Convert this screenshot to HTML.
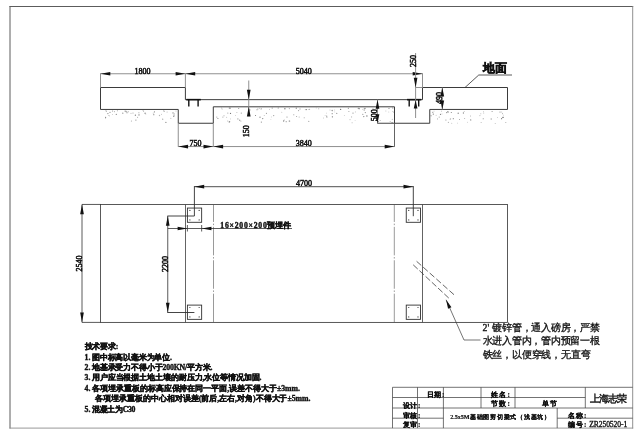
<!DOCTYPE html>
<html><head><meta charset="utf-8"><title>2.5x5M基础图剪切梁式（浅基坑）</title>
<style>
html,body{margin:0;padding:0;background:#fff;}
body{width:640px;height:435px;overflow:hidden;font-family:"Liberation Serif",serif;}
svg{display:block;filter:grayscale(1);}
text{font-family:"Liberation Serif",serif;fill:#111;}
text.n{font-weight:normal;stroke:#111;stroke-width:0.5;}
text.b{font-weight:bold;stroke:#111;stroke-width:0.38;}
text.s{font-weight:normal;stroke:#111;stroke-width:0.32;}
text.l{font-weight:bold;stroke:#111;stroke-width:0.22;}
text.c{font-weight:normal;stroke:#111;stroke-width:0.42;}
text.t{font-weight:bold;stroke:#111;stroke-width:0.15;}
text.h{font-family:"Liberation Sans",sans-serif;font-weight:bold;stroke:#111;stroke-width:0.55;}
</style></head><body>
<svg width="640" height="435" viewBox="0 0 640 435">
<rect x="0" y="0" width="640" height="435" fill="#ffffff"/>
<line x1="9.5" y1="6.5" x2="633.2" y2="6.5" stroke="#5c5c5c" stroke-width="1" />
<line x1="10" y1="6" x2="10" y2="428.5" stroke="#5c5c5c" stroke-width="1" />
<line x1="632.7" y1="6" x2="632.7" y2="428.5" stroke="#858585" stroke-width="0.9" />
<line x1="9.5" y1="428.1" x2="633.2" y2="428.1" stroke="#8c8c8c" stroke-width="0.9" />
<circle cx="125.8" cy="111.2" r="0.60" fill="#8a8a8a"/>
<circle cx="163.8" cy="110.9" r="0.57" fill="#999"/>
<circle cx="117.4" cy="110.8" r="0.53" fill="#a0a0a0"/>
<circle cx="107.9" cy="113.6" r="0.65" fill="#8a8a8a"/>
<circle cx="173.5" cy="116.3" r="0.57" fill="#8a8a8a"/>
<circle cx="145.1" cy="113.3" r="0.69" fill="#8a8a8a"/>
<circle cx="143.6" cy="111.1" r="0.53" fill="#999"/>
<circle cx="110.0" cy="112.4" r="0.64" fill="#a0a0a0"/>
<circle cx="108.9" cy="115.5" r="0.46" fill="#8a8a8a"/>
<circle cx="142.9" cy="110.7" r="0.42" fill="#a0a0a0"/>
<circle cx="139.0" cy="114.9" r="0.63" fill="#777"/>
<circle cx="145.8" cy="114.0" r="0.49" fill="#a0a0a0"/>
<circle cx="154.5" cy="111.8" r="0.57" fill="#999"/>
<circle cx="138.9" cy="112.8" r="0.53" fill="#999"/>
<circle cx="176.0" cy="111.0" r="0.53" fill="#b4b4b4"/>
<circle cx="112.6" cy="114.4" r="0.41" fill="#8a8a8a"/>
<circle cx="159.5" cy="115.5" r="0.66" fill="#b4b4b4"/>
<circle cx="127.0" cy="112.8" r="0.55" fill="#777"/>
<circle cx="106.3" cy="110.9" r="0.48" fill="#8a8a8a"/>
<circle cx="105.6" cy="117.3" r="0.59" fill="#777"/>
<circle cx="122.8" cy="113.2" r="0.60" fill="#8a8a8a"/>
<circle cx="173.0" cy="112.9" r="0.58" fill="#777"/>
<circle cx="105.5" cy="118.4" r="0.44" fill="#a0a0a0"/>
<circle cx="131.4" cy="121.0" r="0.55" fill="#a0a0a0"/>
<circle cx="135.4" cy="115.2" r="0.67" fill="#777"/>
<circle cx="167.1" cy="112.1" r="0.52" fill="#b4b4b4"/>
<circle cx="153.2" cy="113.1" r="0.47" fill="#8a8a8a"/>
<circle cx="114.5" cy="111.7" r="0.47" fill="#777"/>
<circle cx="164.6" cy="111.4" r="0.48" fill="#a0a0a0"/>
<circle cx="133.0" cy="113.0" r="0.57" fill="#a0a0a0"/>
<circle cx="153.8" cy="114.7" r="0.59" fill="#8a8a8a"/>
<circle cx="135.9" cy="120.1" r="0.69" fill="#999"/>
<circle cx="131.0" cy="113.3" r="0.43" fill="#777"/>
<circle cx="105.8" cy="110.8" r="0.46" fill="#a0a0a0"/>
<circle cx="109.4" cy="115.9" r="0.43" fill="#999"/>
<circle cx="112.6" cy="110.9" r="0.51" fill="#8a8a8a"/>
<circle cx="106.4" cy="111.6" r="0.51" fill="#b4b4b4"/>
<circle cx="174.1" cy="115.9" r="0.54" fill="#8a8a8a"/>
<circle cx="165.9" cy="122.4" r="0.54" fill="#777"/>
<circle cx="124.9" cy="111.1" r="0.62" fill="#b4b4b4"/>
<circle cx="137.6" cy="117.2" r="0.55" fill="#a0a0a0"/>
<circle cx="173.8" cy="114.9" r="0.44" fill="#999"/>
<circle cx="170.9" cy="118.2" r="0.49" fill="#8a8a8a"/>
<circle cx="154.3" cy="112.0" r="0.51" fill="#a0a0a0"/>
<circle cx="128.2" cy="111.7" r="0.56" fill="#999"/>
<circle cx="126.2" cy="111.7" r="0.64" fill="#a0a0a0"/>
<circle cx="162.7" cy="119.2" r="0.62" fill="#a0a0a0"/>
<circle cx="116.3" cy="114.4" r="0.62" fill="#8a8a8a"/>
<circle cx="161.4" cy="114.2" r="0.46" fill="#999"/>
<circle cx="174.2" cy="113.9" r="0.68" fill="#b4b4b4"/>
<circle cx="385.9" cy="111.0" r="0.47" fill="#a0a0a0"/>
<circle cx="298.6" cy="110.6" r="0.54" fill="#999"/>
<circle cx="365.3" cy="112.6" r="0.60" fill="#8a8a8a"/>
<circle cx="364.2" cy="108.5" r="0.52" fill="#a0a0a0"/>
<circle cx="300.0" cy="109.0" r="0.64" fill="#b4b4b4"/>
<circle cx="229.6" cy="121.7" r="0.62" fill="#777"/>
<circle cx="286.2" cy="121.7" r="0.62" fill="#a0a0a0"/>
<circle cx="392.8" cy="108.0" r="0.58" fill="#777"/>
<circle cx="359.2" cy="108.7" r="0.65" fill="#777"/>
<circle cx="332.3" cy="110.8" r="0.56" fill="#a0a0a0"/>
<circle cx="217.9" cy="118.5" r="0.62" fill="#8a8a8a"/>
<circle cx="308.8" cy="121.4" r="0.53" fill="#a0a0a0"/>
<circle cx="362.7" cy="109.2" r="0.48" fill="#b4b4b4"/>
<circle cx="304.2" cy="117.7" r="0.50" fill="#999"/>
<circle cx="289.4" cy="108.6" r="0.67" fill="#b4b4b4"/>
<circle cx="375.6" cy="115.8" r="0.64" fill="#999"/>
<circle cx="289.7" cy="121.1" r="0.55" fill="#999"/>
<circle cx="241.3" cy="113.1" r="0.66" fill="#a0a0a0"/>
<circle cx="323.5" cy="118.0" r="0.44" fill="#a0a0a0"/>
<circle cx="299.2" cy="117.0" r="0.57" fill="#b4b4b4"/>
<circle cx="336.8" cy="113.4" r="0.54" fill="#8a8a8a"/>
<circle cx="373.0" cy="108.2" r="0.46" fill="#8a8a8a"/>
<circle cx="353.0" cy="113.1" r="0.57" fill="#8a8a8a"/>
<circle cx="293.8" cy="114.8" r="0.55" fill="#999"/>
<circle cx="249.9" cy="109.9" r="0.55" fill="#777"/>
<circle cx="305.4" cy="109.6" r="0.56" fill="#b4b4b4"/>
<circle cx="380.1" cy="120.5" r="0.46" fill="#777"/>
<circle cx="238.7" cy="108.5" r="0.53" fill="#8a8a8a"/>
<circle cx="334.8" cy="111.9" r="0.46" fill="#b4b4b4"/>
<circle cx="355.1" cy="120.6" r="0.45" fill="#b4b4b4"/>
<circle cx="239.7" cy="120.3" r="0.69" fill="#a0a0a0"/>
<circle cx="348.4" cy="108.3" r="0.67" fill="#a0a0a0"/>
<circle cx="392.2" cy="119.2" r="0.45" fill="#777"/>
<circle cx="392.9" cy="111.5" r="0.53" fill="#b4b4b4"/>
<circle cx="271.3" cy="116.9" r="0.41" fill="#999"/>
<circle cx="296.6" cy="116.5" r="0.52" fill="#999"/>
<circle cx="326.3" cy="113.1" r="0.42" fill="#a0a0a0"/>
<circle cx="388.9" cy="108.4" r="0.48" fill="#8a8a8a"/>
<circle cx="377.1" cy="109.0" r="0.63" fill="#777"/>
<circle cx="366.9" cy="116.0" r="0.68" fill="#777"/>
<circle cx="240.9" cy="121.1" r="0.57" fill="#b4b4b4"/>
<circle cx="230.1" cy="108.2" r="0.61" fill="#777"/>
<circle cx="375.2" cy="109.8" r="0.41" fill="#8a8a8a"/>
<circle cx="358.3" cy="108.3" r="0.66" fill="#8a8a8a"/>
<circle cx="261.6" cy="108.5" r="0.40" fill="#999"/>
<circle cx="289.2" cy="121.0" r="0.59" fill="#8a8a8a"/>
<circle cx="308.8" cy="109.5" r="0.43" fill="#a0a0a0"/>
<circle cx="261.1" cy="109.0" r="0.68" fill="#b4b4b4"/>
<circle cx="309.6" cy="109.2" r="0.53" fill="#a0a0a0"/>
<circle cx="262.7" cy="118.6" r="0.70" fill="#8a8a8a"/>
<circle cx="216.8" cy="117.1" r="0.57" fill="#a0a0a0"/>
<circle cx="306.6" cy="109.6" r="0.53" fill="#777"/>
<circle cx="332.2" cy="113.7" r="0.67" fill="#999"/>
<circle cx="269.4" cy="109.3" r="0.47" fill="#a0a0a0"/>
<circle cx="363.8" cy="116.6" r="0.59" fill="#777"/>
<circle cx="392.1" cy="122.6" r="0.65" fill="#8a8a8a"/>
<circle cx="226.7" cy="117.3" r="0.48" fill="#a0a0a0"/>
<circle cx="224.0" cy="115.8" r="0.51" fill="#999"/>
<circle cx="334.7" cy="110.0" r="0.47" fill="#b4b4b4"/>
<circle cx="222.1" cy="109.0" r="0.48" fill="#8a8a8a"/>
<circle cx="261.4" cy="122.1" r="0.69" fill="#999"/>
<circle cx="272.2" cy="108.1" r="0.66" fill="#a0a0a0"/>
<circle cx="278.2" cy="108.0" r="0.51" fill="#777"/>
<circle cx="264.2" cy="115.6" r="0.47" fill="#8a8a8a"/>
<circle cx="230.4" cy="118.9" r="0.44" fill="#999"/>
<circle cx="221.5" cy="108.0" r="0.49" fill="#a0a0a0"/>
<circle cx="229.2" cy="122.0" r="0.66" fill="#a0a0a0"/>
<circle cx="332.4" cy="116.8" r="0.66" fill="#777"/>
<circle cx="351.6" cy="116.9" r="0.55" fill="#b4b4b4"/>
<circle cx="344.3" cy="115.4" r="0.41" fill="#999"/>
<circle cx="326.9" cy="117.1" r="0.64" fill="#a0a0a0"/>
<circle cx="377.8" cy="117.5" r="0.57" fill="#8a8a8a"/>
<circle cx="362.8" cy="114.3" r="0.67" fill="#a0a0a0"/>
<circle cx="229.3" cy="108.1" r="0.59" fill="#8a8a8a"/>
<circle cx="281.8" cy="112.2" r="0.42" fill="#8a8a8a"/>
<circle cx="326.7" cy="116.1" r="0.55" fill="#8a8a8a"/>
<circle cx="296.3" cy="108.2" r="0.68" fill="#999"/>
<circle cx="230.5" cy="113.4" r="0.62" fill="#777"/>
<circle cx="259.4" cy="108.2" r="0.48" fill="#a0a0a0"/>
<circle cx="255.5" cy="115.5" r="0.54" fill="#777"/>
<circle cx="227.8" cy="120.9" r="0.49" fill="#8a8a8a"/>
<circle cx="325.1" cy="115.4" r="0.42" fill="#a0a0a0"/>
<circle cx="273.7" cy="115.6" r="0.61" fill="#999"/>
<circle cx="316.2" cy="108.0" r="0.42" fill="#b4b4b4"/>
<circle cx="389.1" cy="108.4" r="0.47" fill="#777"/>
<circle cx="266.4" cy="113.2" r="0.54" fill="#777"/>
<circle cx="352.1" cy="122.8" r="0.56" fill="#b4b4b4"/>
<circle cx="390.1" cy="121.5" r="0.41" fill="#777"/>
<circle cx="227.8" cy="113.1" r="0.70" fill="#b4b4b4"/>
<circle cx="283.6" cy="121.0" r="0.68" fill="#8a8a8a"/>
<circle cx="318.7" cy="108.7" r="0.56" fill="#b4b4b4"/>
<circle cx="237.9" cy="118.9" r="0.55" fill="#8a8a8a"/>
<circle cx="340.6" cy="109.4" r="0.67" fill="#777"/>
<circle cx="284.9" cy="108.8" r="0.68" fill="#777"/>
<circle cx="287.0" cy="117.0" r="0.52" fill="#777"/>
<circle cx="270.9" cy="119.4" r="0.40" fill="#b4b4b4"/>
<circle cx="365.0" cy="108.5" r="0.68" fill="#8a8a8a"/>
<circle cx="376.3" cy="110.1" r="0.51" fill="#777"/>
<circle cx="284.2" cy="120.0" r="0.42" fill="#777"/>
<circle cx="350.0" cy="119.7" r="0.48" fill="#8a8a8a"/>
<circle cx="364.2" cy="110.0" r="0.68" fill="#a0a0a0"/>
<circle cx="388.8" cy="112.0" r="0.49" fill="#b4b4b4"/>
<circle cx="355.3" cy="111.9" r="0.41" fill="#777"/>
<circle cx="378.4" cy="121.6" r="0.56" fill="#8a8a8a"/>
<circle cx="222.9" cy="117.1" r="0.54" fill="#a0a0a0"/>
<circle cx="330.0" cy="110.0" r="0.41" fill="#999"/>
<circle cx="236.9" cy="112.5" r="0.50" fill="#b4b4b4"/>
<circle cx="260.0" cy="117.2" r="0.60" fill="#777"/>
<circle cx="332.1" cy="110.2" r="0.57" fill="#777"/>
<circle cx="235.6" cy="115.4" r="0.42" fill="#999"/>
<circle cx="377.1" cy="112.9" r="0.47" fill="#b4b4b4"/>
<circle cx="393.4" cy="112.2" r="0.44" fill="#a0a0a0"/>
<circle cx="257.9" cy="108.9" r="0.57" fill="#b4b4b4"/>
<circle cx="257.0" cy="109.7" r="0.57" fill="#8a8a8a"/>
<circle cx="348.9" cy="111.6" r="0.52" fill="#999"/>
<circle cx="446.8" cy="112.6" r="0.63" fill="#777"/>
<circle cx="451.8" cy="123.3" r="0.44" fill="#999"/>
<circle cx="470.7" cy="119.9" r="0.65" fill="#8a8a8a"/>
<circle cx="451.3" cy="112.4" r="0.52" fill="#777"/>
<circle cx="463.4" cy="113.0" r="0.64" fill="#8a8a8a"/>
<circle cx="440.5" cy="114.3" r="0.63" fill="#777"/>
<circle cx="503.6" cy="115.1" r="0.42" fill="#999"/>
<circle cx="495.2" cy="123.4" r="0.47" fill="#8a8a8a"/>
<circle cx="447.8" cy="111.6" r="0.69" fill="#8a8a8a"/>
<circle cx="501.6" cy="118.7" r="0.59" fill="#777"/>
<circle cx="437.4" cy="119.7" r="0.40" fill="#a0a0a0"/>
<circle cx="448.4" cy="122.4" r="0.59" fill="#b4b4b4"/>
<circle cx="503.2" cy="117.2" r="0.56" fill="#777"/>
<circle cx="483.4" cy="111.4" r="0.42" fill="#999"/>
<circle cx="501.8" cy="111.9" r="0.48" fill="#999"/>
<circle cx="431.1" cy="115.8" r="0.70" fill="#b4b4b4"/>
<circle cx="502.9" cy="117.4" r="0.67" fill="#777"/>
<circle cx="470.5" cy="116.0" r="0.41" fill="#777"/>
<circle cx="483.8" cy="113.0" r="0.41" fill="#777"/>
<circle cx="497.4" cy="117.5" r="0.42" fill="#a0a0a0"/>
<circle cx="481.1" cy="122.5" r="0.47" fill="#8a8a8a"/>
<circle cx="483.2" cy="118.7" r="0.51" fill="#777"/>
<circle cx="445.9" cy="120.0" r="0.62" fill="#999"/>
<circle cx="436.1" cy="115.2" r="0.46" fill="#a0a0a0"/>
<circle cx="448.3" cy="112.2" r="0.63" fill="#b4b4b4"/>
<circle cx="439.2" cy="117.1" r="0.58" fill="#a0a0a0"/>
<circle cx="467.4" cy="122.2" r="0.42" fill="#999"/>
<circle cx="442.0" cy="113.9" r="0.46" fill="#999"/>
<circle cx="441.6" cy="111.1" r="0.42" fill="#777"/>
<circle cx="464.7" cy="118.5" r="0.49" fill="#8a8a8a"/>
<circle cx="505.8" cy="122.6" r="0.50" fill="#a0a0a0"/>
<circle cx="479.9" cy="115.6" r="0.54" fill="#b4b4b4"/>
<circle cx="480.8" cy="113.7" r="0.51" fill="#b4b4b4"/>
<circle cx="464.2" cy="111.4" r="0.42" fill="#8a8a8a"/>
<circle cx="457.4" cy="123.1" r="0.44" fill="#a0a0a0"/>
<circle cx="459.5" cy="119.5" r="0.49" fill="#777"/>
<circle cx="437.6" cy="118.4" r="0.46" fill="#999"/>
<circle cx="500.0" cy="111.9" r="0.51" fill="#777"/>
<circle cx="433.3" cy="114.1" r="0.64" fill="#777"/>
<circle cx="434.0" cy="111.1" r="0.42" fill="#8a8a8a"/>
<circle cx="450.3" cy="119.2" r="0.67" fill="#b4b4b4"/>
<circle cx="458.2" cy="113.3" r="0.69" fill="#8a8a8a"/>
<circle cx="450.7" cy="118.6" r="0.49" fill="#b4b4b4"/>
<circle cx="453.3" cy="118.7" r="0.58" fill="#8a8a8a"/>
<circle cx="432.8" cy="112.3" r="0.54" fill="#777"/>
<circle cx="502.5" cy="113.8" r="0.48" fill="#777"/>
<circle cx="492.1" cy="111.5" r="0.55" fill="#8a8a8a"/>
<circle cx="491.2" cy="119.0" r="0.65" fill="#a0a0a0"/>
<polyline points="100.5,109.45 100.5,87.5 185.4,87.5 185.4,99.65 422.5,99.65 422.5,87.5 507.5,87.5 507.5,109.45 429.75,109.45 429.75,123.25 394.5,123.25 394.5,106.8 213.3,106.8 213.3,123.25 178.25,123.25 178.25,109.45 100.5,109.45" fill="none" stroke="#303030" stroke-width="0.95"/>
<line x1="186.3" y1="99.65" x2="200.8" y2="99.65" stroke="#111" stroke-width="1.6" />
<line x1="188.8" y1="99.65" x2="188.8" y2="106.6" stroke="#111" stroke-width="1.4" />
<line x1="198.1" y1="99.65" x2="198.1" y2="106.6" stroke="#111" stroke-width="1.4" />
<line x1="407" y1="99.65" x2="421.3" y2="99.65" stroke="#111" stroke-width="1.6" />
<line x1="409.2" y1="99.65" x2="409.2" y2="106.6" stroke="#111" stroke-width="1.4" />
<line x1="418.7" y1="99.65" x2="418.7" y2="106.6" stroke="#111" stroke-width="1.4" />
<line x1="100.5" y1="73.3" x2="100.5" y2="87.5" stroke="#8a8a8a" stroke-width="0.95" />
<line x1="185.4" y1="73.3" x2="185.4" y2="87.5" stroke="#8a8a8a" stroke-width="0.95" />
<line x1="422.5" y1="73.3" x2="422.5" y2="87.5" stroke="#8a8a8a" stroke-width="0.95" />
<line x1="100.5" y1="73.75" x2="422.5" y2="73.75" stroke="#8a8a8a" stroke-width="0.95" />
<polygon points="100.50,73.75 110.30,71.90 110.30,75.60" fill="#111"/>
<polygon points="185.40,73.75 175.60,75.60 175.60,71.90" fill="#111"/>
<polygon points="185.40,73.75 195.20,71.90 195.20,75.60" fill="#111"/>
<polygon points="422.50,73.75 412.70,75.60 412.70,71.90" fill="#111"/>
<text x="142.5" y="73.8" font-size="8" text-anchor="middle" class="n" >1800</text>
<text x="303.75" y="73.8" font-size="8" text-anchor="middle" class="n" >5040</text>
<line x1="178.25" y1="123.25" x2="178.25" y2="146.9" stroke="#8a8a8a" stroke-width="0.95" />
<line x1="213.3" y1="123.25" x2="213.3" y2="146.9" stroke="#8a8a8a" stroke-width="0.95" />
<line x1="394.5" y1="123.25" x2="394.5" y2="146.9" stroke="#484848" stroke-width="0.85" />
<line x1="178.25" y1="146.55" x2="394.5" y2="146.55" stroke="#8a8a8a" stroke-width="0.95" />
<polygon points="178.25,146.55 188.05,144.70 188.05,148.40" fill="#111"/>
<polygon points="213.30,146.55 203.50,148.40 203.50,144.70" fill="#111"/>
<polygon points="213.30,146.55 223.10,144.70 223.10,148.40" fill="#111"/>
<polygon points="394.50,146.55 384.70,148.40 384.70,144.70" fill="#111"/>
<text x="195.5" y="146.3" font-size="8" text-anchor="middle" class="n" >750</text>
<text x="303.75" y="146.3" font-size="8" text-anchor="middle" class="n" >3840</text>
<line x1="248.75" y1="80.5" x2="248.75" y2="116.2" stroke="#8a8a8a" stroke-width="0.95" />
<polygon points="248.75,99.65 246.90,89.85 250.60,89.85" fill="#111"/>
<polygon points="248.75,106.80 250.60,116.60 246.90,116.60" fill="#111"/>
<text x="249.2" y="131.25" font-size="8" text-anchor="middle" class="n" transform="rotate(-90 249.2 131.25)" >150</text>
<line x1="377.5" y1="99.65" x2="377.5" y2="123.25" stroke="#8a8a8a" stroke-width="0.95" />
<line x1="377.3" y1="123.25" x2="394.5" y2="123.25" stroke="#303030" stroke-width="0.9" />
<polygon points="377.50,99.65 379.35,108.65 375.65,108.65" fill="#111"/>
<polygon points="377.50,123.25 375.65,114.25 379.35,114.25" fill="#111"/>
<text x="377.2" y="115.2" font-size="8" text-anchor="middle" class="n" transform="rotate(-90 377.2 115.2)" >500</text>
<line x1="415.6" y1="53" x2="415.6" y2="118" stroke="#8a8a8a" stroke-width="0.95" />
<line x1="415.6" y1="87.5" x2="422.5" y2="87.5" stroke="#8a8a8a" stroke-width="0.95" />
<polygon points="415.60,87.50 413.75,77.70 417.45,77.70" fill="#111"/>
<polygon points="415.60,100.05 417.45,108.55 413.75,108.55" fill="#111"/>
<text x="415.5" y="61" font-size="8" text-anchor="middle" class="n" transform="rotate(-90 415.5 61)" >250</text>
<line x1="442.3" y1="87.5" x2="442.3" y2="109.45" stroke="#8a8a8a" stroke-width="0.95" />
<polygon points="442.30,87.50 444.15,96.50 440.45,96.50" fill="#111"/>
<polygon points="442.30,109.45 440.45,100.45 444.15,100.45" fill="#111"/>
<text x="442" y="98.1" font-size="8" text-anchor="middle" class="n" transform="rotate(-90 442 98.1)" >490</text>
<polyline points="465,87.5 478.75,75 512,75" fill="none" stroke="#303030" stroke-width="0.8"/>
<text x="495.3" y="72.2" font-size="12.3" text-anchor="middle" class="h" >地面</text>
<rect x="100.5" y="204.45" width="407" height="117.95" fill="none" stroke="#3c3c3c" stroke-width="0.85"/>
<line x1="82" y1="204.45" x2="100.5" y2="204.45" stroke="#303030" stroke-width="0.8" />
<line x1="82" y1="322.4" x2="100.5" y2="322.4" stroke="#303030" stroke-width="0.8" />
<line x1="185.5" y1="204.45" x2="185.5" y2="322.4" stroke="#484848" stroke-width="0.85" />
<line x1="422.5" y1="204.45" x2="422.5" y2="322.4" stroke="#484848" stroke-width="0.85" />
<line x1="213.5" y1="204.45" x2="213.5" y2="322.4" stroke="#555" stroke-width="0.6" stroke-dasharray="28.5 1.7 1.5 1.7" stroke-dashoffset="11"/>
<line x1="394.3" y1="204.45" x2="394.3" y2="322.4" stroke="#555" stroke-width="0.6" stroke-dasharray="28.5 1.7 1.5 1.7" stroke-dashoffset="11"/>
<rect x="187.4" y="208.05" width="14.25" height="14.25" fill="none" stroke="#303030" stroke-width="0.9"/>
<circle cx="189.90" cy="210.45" r="0.6" fill="#333"/>
<circle cx="189.90" cy="219.90" r="0.6" fill="#333"/>
<circle cx="199.15" cy="210.45" r="0.6" fill="#333"/>
<circle cx="199.15" cy="219.90" r="0.6" fill="#333"/>
<rect x="406.25" y="208.05" width="14.25" height="14.25" fill="none" stroke="#303030" stroke-width="0.9"/>
<circle cx="408.75" cy="210.45" r="0.6" fill="#333"/>
<circle cx="408.75" cy="219.90" r="0.6" fill="#333"/>
<circle cx="418.00" cy="210.45" r="0.6" fill="#333"/>
<circle cx="418.00" cy="219.90" r="0.6" fill="#333"/>
<rect x="187.4" y="305.1" width="14.25" height="14.25" fill="none" stroke="#303030" stroke-width="0.9"/>
<circle cx="189.90" cy="307.50" r="0.6" fill="#333"/>
<circle cx="189.90" cy="316.95" r="0.6" fill="#333"/>
<circle cx="199.15" cy="307.50" r="0.6" fill="#333"/>
<circle cx="199.15" cy="316.95" r="0.6" fill="#333"/>
<rect x="406.25" y="305.1" width="14.25" height="14.25" fill="none" stroke="#303030" stroke-width="0.9"/>
<circle cx="408.75" cy="307.50" r="0.6" fill="#333"/>
<circle cx="408.75" cy="316.95" r="0.6" fill="#333"/>
<circle cx="418.00" cy="307.50" r="0.6" fill="#333"/>
<circle cx="418.00" cy="316.95" r="0.6" fill="#333"/>
<line x1="194.4" y1="186.7" x2="413.3" y2="186.7" stroke="#303030" stroke-width="0.85" />
<line x1="194.4" y1="186.1" x2="194.4" y2="216" stroke="#303030" stroke-width="0.9" />
<line x1="413.3" y1="186.1" x2="413.3" y2="216.2" stroke="#303030" stroke-width="0.9" />
<polygon points="194.40,186.70 204.20,184.85 204.20,188.55" fill="#111"/>
<polygon points="413.30,186.70 403.50,188.55 403.50,184.85" fill="#111"/>
<text x="303.9" y="186.4" font-size="8" text-anchor="middle" class="n" >4700</text>
<line x1="167.75" y1="216" x2="167.75" y2="312.5" stroke="#303030" stroke-width="0.8" />
<line x1="167.35" y1="216" x2="194.4" y2="216" stroke="#303030" stroke-width="0.9" />
<line x1="167.35" y1="312.5" x2="194.4" y2="312.5" stroke="#303030" stroke-width="0.9" />
<polygon points="167.75,216.00 169.60,225.80 165.90,225.80" fill="#111"/>
<polygon points="167.75,312.50 165.90,302.70 169.60,302.70" fill="#111"/>
<text x="168" y="264.1" font-size="8" text-anchor="middle" class="n" transform="rotate(-90 168 264.1)" >2200</text>
<line x1="82" y1="204.45" x2="82" y2="322.4" stroke="#303030" stroke-width="0.8" />
<polygon points="82.00,204.45 83.85,214.25 80.15,214.25" fill="#111"/>
<polygon points="82.00,322.40 80.15,312.60 83.85,312.60" fill="#111"/>
<text x="82" y="263.4" font-size="8" text-anchor="middle" class="n" transform="rotate(-90 82 263.4)" >2540</text>
<line x1="167.75" y1="228.5" x2="292" y2="228.5" stroke="#333" stroke-width="0.8" />
<line x1="187.4" y1="225" x2="187.4" y2="231.5" stroke="#333" stroke-width="0.8" />
<line x1="201.65" y1="225" x2="201.65" y2="231.5" stroke="#333" stroke-width="0.8" />
<polygon points="187.40,228.50 177.60,230.35 177.60,226.65" fill="#111"/>
<polygon points="201.65,228.50 211.45,226.65 211.45,230.35" fill="#111"/>
<text x="220.3" y="228" font-size="7.7" text-anchor="start" class="b" ><tspan textLength="46.5" lengthAdjust="spacing">16×200×200</tspan><tspan x="267.4" textLength="23.2" lengthAdjust="spacing">预埋件</tspan></text>
<line x1="416.6" y1="261.3" x2="454" y2="294.7" stroke="#333" stroke-width="0.75" stroke-dasharray="6.2 2.6"/>
<line x1="413.2" y1="264.8" x2="448.8" y2="298.1" stroke="#333" stroke-width="0.75" stroke-dasharray="6.2 2.3"/>
<polyline points="446.1,299.8 464,340 480.5,340" fill="none" stroke="#3a3a3a" stroke-width="0.7"/>
<polygon points="446.10,299.80 451.45,307.27 448.07,308.77" fill="#111"/>
<text x="482.5" y="331.2" font-size="9.8" text-anchor="start" class="s" >2'<tspan x="492.3" textLength="107.7" lengthAdjust="spacing">镀锌管，通入磅房，严禁</tspan></text>
<text x="482.5" y="344.45" font-size="9.8" text-anchor="start" class="s"  textLength="117.5" lengthAdjust="spacing">水进入管内，管内预留一根</text>
<text x="482.5" y="357.7" font-size="9.8" text-anchor="start" class="s"  textLength="108.2" lengthAdjust="spacing">铁丝，以便穿线，无直弯</text>
<text x="84.5" y="349.2" font-size="7.8" text-anchor="start" class="b"  textLength="33.8" lengthAdjust="spacing">技术要求:</text>
<text x="84.5" y="359.62" font-size="7.8" text-anchor="start" class="b" >1.<tspan x="91.9" textLength="80" lengthAdjust="spacing">图中标高以毫米为单位.</tspan></text>
<text x="84.5" y="370.04" font-size="7.8" text-anchor="start" class="b" >2.<tspan x="91.9" textLength="120.6" lengthAdjust="spacing">地基承受力不得小于200KN/平方米.</tspan></text>
<text x="84.5" y="380.46" font-size="7.8" text-anchor="start" class="b" >3.<tspan x="91.9" textLength="169.6" lengthAdjust="spacing">用户应当根据土地土壤的耐压力,水位等情况加固.</tspan></text>
<text x="84.5" y="390.88" font-size="7.8" text-anchor="start" class="b" >4.<tspan x="91.9" textLength="208" lengthAdjust="spacing">各项埋承重板的标高应保持在同一平面,误差不得大于±3mm.</tspan></text>
<text x="95" y="401.3" font-size="7.8" text-anchor="start" class="b"  textLength="215.5" lengthAdjust="spacing">各项埋承重板的中心相对误差(前后,左右,对角)不得大于±5mm.</text>
<text x="84.5" y="411.72" font-size="7.8" text-anchor="start" class="b" >5.<tspan x="91.9" textLength="43.6" lengthAdjust="spacing">混凝土为C30</tspan></text>
<line x1="392.5" y1="387.3" x2="632.7" y2="387.3" stroke="#444" stroke-width="0.75" />
<line x1="392.5" y1="387.3" x2="392.5" y2="428.1" stroke="#444" stroke-width="0.75" />
<line x1="417.5" y1="387.3" x2="417.5" y2="428.1" stroke="#444" stroke-width="0.75" />
<line x1="443.4" y1="387.3" x2="443.4" y2="428.1" stroke="#444" stroke-width="0.75" />
<line x1="481" y1="387.3" x2="481" y2="408.0" stroke="#444" stroke-width="0.75" />
<line x1="515" y1="387.3" x2="515" y2="408.0" stroke="#444" stroke-width="0.75" />
<line x1="585.3" y1="387.3" x2="585.3" y2="408.0" stroke="#444" stroke-width="0.75" />
<line x1="557.2" y1="408.0" x2="557.2" y2="428.1" stroke="#444" stroke-width="0.75" />
<line x1="392.5" y1="397.5" x2="585.3" y2="397.5" stroke="#444" stroke-width="0.75" />
<line x1="392.5" y1="408.0" x2="632.7" y2="408.0" stroke="#444" stroke-width="0.75" />
<line x1="392.5" y1="418.2" x2="443.4" y2="418.2" stroke="#444" stroke-width="0.75" />
<line x1="557.2" y1="418.2" x2="632.7" y2="418.2" stroke="#444" stroke-width="0.75" />
<text x="426.5" y="397.3" font-size="7.2" text-anchor="start" class="l"  textLength="17.9" lengthAdjust="spacing">日期:</text>
<text x="402.5" y="407.6" font-size="7.2" text-anchor="start" class="l"  textLength="17.9" lengthAdjust="spacing">设计:</text>
<text x="402.5" y="417.8" font-size="7.2" text-anchor="start" class="l"  textLength="17.9" lengthAdjust="spacing">审核:</text>
<text x="402.5" y="427.3" font-size="7.2" text-anchor="start" class="l"  textLength="17.9" lengthAdjust="spacing">复审:</text>
<text x="491.3" y="397.4" font-size="7.2" text-anchor="start" class="l"  textLength="18.5" lengthAdjust="spacing">姓名:</text>
<text x="491.3" y="406.3" font-size="7.2" text-anchor="start" class="l"  textLength="18.5" lengthAdjust="spacing">节数:</text>
<text x="542.4" y="406.2" font-size="7.2" text-anchor="start" class="l"  textLength="15" lengthAdjust="spacing">单节</text>
<text x="589.8" y="402.2" font-size="9.5" text-anchor="start" class="c"  textLength="37.5" lengthAdjust="spacing">上海志荣</text>
<text x="450.2" y="418.9" font-size="6.2" text-anchor="start" class="t" ><tspan textLength="19.3" lengthAdjust="spacing">2.5x5M</tspan><tspan x="470" textLength="80" lengthAdjust="spacing">基础图剪切梁式（浅基坑）</tspan></text>
<text x="567.8" y="417.7" font-size="7.2" text-anchor="start" class="l"  textLength="18.6" lengthAdjust="spacing">名称:</text>
<text x="567.8" y="427.2" font-size="7.2" text-anchor="start" class="l"  textLength="18.6" lengthAdjust="spacing">编号:</text>
<text x="589.2" y="427.2" font-size="7.6" text-anchor="start" class="s"  textLength="38" lengthAdjust="spacing">ZR250520-1</text>
</svg>
</body></html>
